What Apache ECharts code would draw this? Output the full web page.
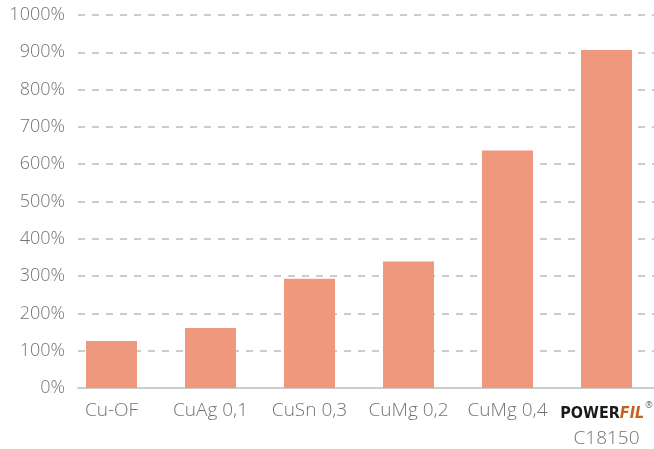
<!DOCTYPE html>
<html>
<head>
<meta charset="utf-8">
<script src="https://cdn.jsdelivr.net/npm/echarts@6/dist/echarts.min.js"></script>
<style>
html,body{margin:0;padding:0;background:#fff;}
#main{width:654px;height:449px;}
</style>
</head>
<body>
<div id="main"></div>
<script>
// 数据
var categories = ['Cu-OF', 'CuAg 0,1', 'CuSn 0,3', 'CuMg 0,2', 'CuMg 0,4', 'POWERFIL C18150'];
var values = [126, 161, 293, 339, 637, 906];
var yTicks = [0, 100, 200, 300, 400, 500, 600, 700, 800, 900, 1000];

var textColor = '#737373';
var barColor = '#f0987d';

var chart = echarts.init(document.getElementById('main'));
var option = {
    animation: false,
    textStyle: { fontFamily: 'Open Sans' },
    grid: [
        // 网格线与y轴
        { left: 78, right: 0, top: 15, bottom: 61, outerBoundsMode: 'none' },
        // 柱子
        { left: 62, width: 594, top: 15, bottom: 61, outerBoundsMode: 'none' }
    ],
    xAxis: [
        {
            gridIndex: 0,
            type: 'category',
            data: categories,
            axisLine: { show: true, lineStyle: { color: '#cccccc', width: 2 } },
            axisTick: { show: false },
            axisLabel: { show: false }
        },
        {
            gridIndex: 1,
            type: 'category',
            data: categories,
            axisLine: { show: false },
            axisTick: { show: false },
            axisLabel: {
                margin: 13,
                color: textColor,
                fontSize: 19,
                fontWeight: 300,
                interval: 0,
                formatter: function (v) {
                    if (v.indexOf('POWERFIL') === 0) {
                        return '{p|POWER}{f|FIL}{r|®}\n{c|C18150}';
                    }
                    return v;
                },
                rich: {
                    p: { fontFamily: 'DejaVu Sans Condensed', fontWeight: 'bold', fontSize: 16, color: '#1a1a1a', lineHeight: 25 },
                    f: { fontFamily: 'DejaVu Sans Condensed', fontWeight: 'bold', fontStyle: 'italic', fontSize: 16, color: '#c8601e', lineHeight: 25 },
                    r: { fontSize: 9, color: '#333', verticalAlign: 'top', lineHeight: 25, padding: [0, 0, 8, 1] },
                    c: { fontSize: 19, fontWeight: 300, color: textColor, lineHeight: 25 }
                }
            }
        }
    ],
    yAxis: [
        {
            gridIndex: 0,
            type: 'value',
            min: 0,
            max: 1000,
            interval: 100,
            axisLine: { show: false },
            axisTick: { show: false },
            axisLabel: {
                margin: 13,
                color: textColor,
                fontSize: 18,
                fontWeight: 300,
                formatter: function (v) { return yTicks.indexOf(v) >= 0 ? v + '%' : ''; }
            },
            splitLine: { show: true, lineStyle: { color: '#cccccc', type: [7, 7], width: 2 } }
        },
        {
            gridIndex: 1,
            type: 'value',
            min: 0,
            max: 1000,
            show: false
        }
    ],
    series: [
        {
            type: 'bar',
            xAxisIndex: 1,
            yAxisIndex: 1,
            data: values,
            barWidth: 51,
            itemStyle: { color: barColor }
        }
    ]
};
chart.setOption(option);
</script>
</body>
</html>
